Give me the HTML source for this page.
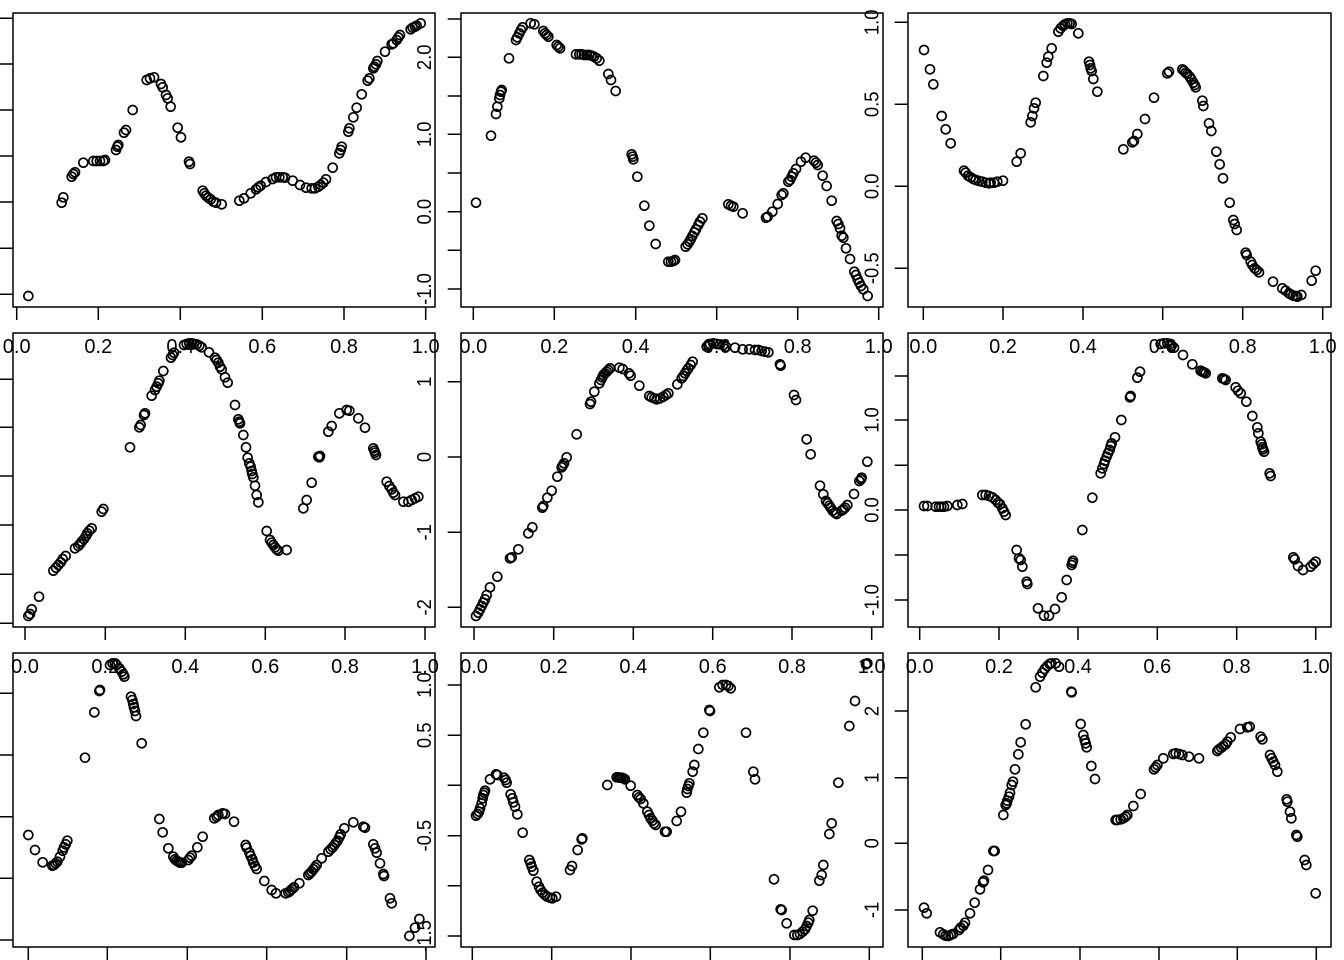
<!DOCTYPE html>
<html><head><meta charset="utf-8"><style>
html,body{margin:0;padding:0;background:#fff;}
body{width:1344px;height:960px;overflow:hidden;}
svg{display:block;}
circle{r:13.5px;}
text{font-family:"Liberation Sans",Arial,sans-serif;font-size:20px;fill:#000;}
</style></head><body>
<svg width="1344" height="960" viewBox="0 0 1344 960" xmlns="http://www.w3.org/2000/svg">
<rect width="1344" height="960" fill="#fff"/>
<g fill="none" stroke="#000" stroke-width="1.5">
<rect x="13" y="13" width="422" height="294"/>
<rect x="461" y="13" width="422" height="294"/>
<rect x="908" y="13" width="423" height="294"/>
<rect x="13" y="333" width="422" height="294"/>
<rect x="461" y="333" width="422" height="294"/>
<rect x="908" y="333" width="423" height="294"/>
<rect x="13" y="653" width="422" height="294"/>
<rect x="461" y="653" width="422" height="294"/>
<rect x="908" y="653" width="423" height="294"/>
<path d="M0 18.3H13M0 64H13M0 110H13M0 156H13M0 202H13M0 248.3H13M0 294.3H13
M16.7 307V320M98.3 307V320M180.3 307V320M262.3 307V320M344 307V320M425.7 307V320"/>
<path d="M447.7 19H461M447.7 57.3H461M447.7 96H461M447.7 134.3H461M447.7 173H461M447.7 211.7H461M447.7 250.3H461M447.7 289H461
M473.3 307V320M554.3 307V320M635.7 307V320M716.7 307V320M797.7 307V320M878.7 307V320"/>
<path d="M894.7 22.3H908M894.7 104.3H908M894.7 186.3H908M894.7 268.3H908
M923.3 307V320M1003 307V320M1083 307V320M1162.7 307V320M1242.7 307V320M1322.7 307V320"/>
<path d="M0 379.3H13M0 427.3H13M0 476H13M0 525H13M0 574.3H13M0 623.3H13
M25 627V640M105.3 627V640M185.3 627V640M265.3 627V640M345 627V640M425 627V640"/>
<path d="M447.7 381.7H461M447.7 457H461M447.7 532.3H461M447.7 607.3H461
M474 627V640M553.7 627V640M633.3 627V640M712.7 627V640M792 627V640M871.7 627V640"/>
<path d="M894.7 376H908M894.7 420H908M894.7 465.3H908M894.7 510H908M894.7 555H908M894.7 600H908
M919.7 627V640M999 627V640M1078 627V640M1157.3 627V640M1236.7 627V640M1315.7 627V640"/>
<path d="M0 693.3H13M0 755H13M0 816.7H13M0 878.3H13M0 940H13
M28.3 947V960M107.3 947V960M187.3 947V960M266.7 947V960M346.7 947V960M426 947V960"/>
<path d="M447.7 685H461M447.7 735.3H461M447.7 785.3H461M447.7 835.7H461M447.7 885.7H461M447.7 936H461
M472.3 947V960M551.7 947V960M631 947V960M710.3 947V960M790 947V960M869.3 947V960"/>
<path d="M894.7 711H908M894.7 777.7H908M894.7 843.3H908M894.7 910H908
M922.3 947V960M1000.7 947V960M1080 947V960M1159 947V960M1237.3 947V960M1316.3 947V960"/>
</g>

<!-- Panel 1 -->
<g transform="translate(0,0) scale(0.333333)" fill="none" stroke="#000" stroke-width="5">
<circle cx="85" cy="888" r="13"/><circle cx="185" cy="608" r="13"/><circle cx="190" cy="592" r="13"/><circle cx="215" cy="530" r="13"/><circle cx="220" cy="522" r="13"/><circle cx="225" cy="517" r="13"/><circle cx="250" cy="488" r="13"/><circle cx="280" cy="483" r="13"/><circle cx="290" cy="483" r="13"/><circle cx="300" cy="483" r="13"/><circle cx="310" cy="483" r="13"/><circle cx="315" cy="480" r="13"/><circle cx="348" cy="450" r="13"/><circle cx="352" cy="440" r="13"/><circle cx="355" cy="435" r="13"/><circle cx="372" cy="398" r="13"/><circle cx="378" cy="390" r="13"/><circle cx="398" cy="330" r="13"/><circle cx="440" cy="240" r="13"/><circle cx="450" cy="235" r="13"/><circle cx="462" cy="232" r="13"/><circle cx="483" cy="252" r="13"/><circle cx="488" cy="262" r="13"/><circle cx="498" cy="285" r="13"/><circle cx="503" cy="295" r="13"/><circle cx="512" cy="320" r="13"/><circle cx="533" cy="383" r="13"/><circle cx="543" cy="412" r="13"/><circle cx="567" cy="485" r="13"/><circle cx="570" cy="492" r="13"/><circle cx="608" cy="572" r="13"/><circle cx="613" cy="580" r="13"/><circle cx="618" cy="587" r="13"/><circle cx="625" cy="593" r="13"/><circle cx="632" cy="598" r="13"/><circle cx="640" cy="605" r="13"/><circle cx="648" cy="608" r="13"/><circle cx="665" cy="613" r="13"/><circle cx="718" cy="602" r="13"/><circle cx="732" cy="595" r="13"/><circle cx="752" cy="580" r="13"/><circle cx="768" cy="568" r="13"/><circle cx="775" cy="562" r="13"/><circle cx="782" cy="557" r="13"/><circle cx="798" cy="546" r="13"/><circle cx="818" cy="537" r="13"/><circle cx="828" cy="532" r="13"/><circle cx="838" cy="532" r="13"/><circle cx="848" cy="532" r="13"/><circle cx="855" cy="533" r="13"/><circle cx="878" cy="542" r="13"/><circle cx="900" cy="555" r="13"/><circle cx="918" cy="563" r="13"/><circle cx="935" cy="565" r="13"/><circle cx="945" cy="565" r="13"/><circle cx="955" cy="560" r="13"/><circle cx="962" cy="555" r="13"/><circle cx="970" cy="548" r="13"/><circle cx="978" cy="538" r="13"/><circle cx="998" cy="503" r="13"/><circle cx="1018" cy="460" r="13"/><circle cx="1022" cy="450" r="13"/><circle cx="1025" cy="440" r="13"/><circle cx="1045" cy="395" r="13"/><circle cx="1048" cy="385" r="13"/><circle cx="1060" cy="352" r="13"/><circle cx="1070" cy="323" r="13"/><circle cx="1085" cy="283" r="13"/><circle cx="1103" cy="242" r="13"/><circle cx="1108" cy="235" r="13"/><circle cx="1120" cy="205" r="13"/><circle cx="1123" cy="200" r="13"/><circle cx="1128" cy="193" r="13"/><circle cx="1132" cy="183" r="13"/><circle cx="1155" cy="155" r="13"/><circle cx="1175" cy="133" r="13"/><circle cx="1180" cy="130" r="13"/><circle cx="1190" cy="120" r="13"/><circle cx="1195" cy="112" r="13"/><circle cx="1200" cy="105" r="13"/><circle cx="1232" cy="88" r="13"/><circle cx="1238" cy="83" r="13"/><circle cx="1245" cy="80" r="13"/><circle cx="1250" cy="77" r="13"/><circle cx="1262" cy="70" r="13"/>
</g>

<!-- Panel 2 -->
<g transform="translate(440,0) scale(0.333333)" fill="none" stroke="#000" stroke-width="5">
<circle cx="108" cy="608" r="13"/><circle cx="153" cy="407" r="13"/><circle cx="168" cy="342" r="13"/><circle cx="172" cy="320" r="13"/><circle cx="178" cy="295" r="13"/><circle cx="180" cy="285" r="13"/><circle cx="183" cy="275" r="13"/><circle cx="185" cy="270" r="13"/><circle cx="207" cy="175" r="13"/><circle cx="228" cy="120" r="13"/><circle cx="232" cy="112" r="13"/><circle cx="238" cy="100" r="13"/><circle cx="243" cy="90" r="13"/><circle cx="248" cy="82" r="13"/><circle cx="272" cy="70" r="13"/><circle cx="283" cy="73" r="13"/><circle cx="310" cy="93" r="13"/><circle cx="315" cy="100" r="13"/><circle cx="320" cy="105" r="13"/><circle cx="325" cy="110" r="13"/><circle cx="350" cy="135" r="13"/><circle cx="355" cy="140" r="13"/><circle cx="360" cy="145" r="13"/><circle cx="408" cy="163" r="13"/><circle cx="418" cy="163" r="13"/><circle cx="425" cy="163" r="13"/><circle cx="432" cy="165" r="13"/><circle cx="440" cy="165" r="13"/><circle cx="448" cy="165" r="13"/><circle cx="455" cy="167" r="13"/><circle cx="462" cy="170" r="13"/><circle cx="470" cy="175" r="13"/><circle cx="478" cy="182" r="13"/><circle cx="505" cy="222" r="13"/><circle cx="513" cy="240" r="13"/><circle cx="527" cy="273" r="13"/><circle cx="575" cy="463" r="13"/><circle cx="578" cy="470" r="13"/><circle cx="580" cy="478" r="13"/><circle cx="592" cy="530" r="13"/><circle cx="613" cy="617" r="13"/><circle cx="628" cy="677" r="13"/><circle cx="647" cy="732" r="13"/><circle cx="685" cy="785" r="13"/><circle cx="693" cy="785" r="13"/><circle cx="700" cy="783" r="13"/><circle cx="705" cy="780" r="13"/><circle cx="737" cy="740" r="13"/><circle cx="743" cy="733" r="13"/><circle cx="748" cy="725" r="13"/><circle cx="752" cy="718" r="13"/><circle cx="757" cy="708" r="13"/><circle cx="763" cy="697" r="13"/><circle cx="768" cy="688" r="13"/><circle cx="775" cy="675" r="13"/><circle cx="780" cy="665" r="13"/><circle cx="787" cy="655" r="13"/><circle cx="865" cy="613" r="13"/><circle cx="873" cy="617" r="13"/><circle cx="880" cy="620" r="13"/><circle cx="908" cy="640" r="13"/><circle cx="978" cy="653" r="13"/><circle cx="983" cy="650" r="13"/><circle cx="997" cy="635" r="13"/><circle cx="1013" cy="612" r="13"/><circle cx="1025" cy="585" r="13"/><circle cx="1030" cy="580" r="13"/><circle cx="1045" cy="545" r="13"/><circle cx="1050" cy="540" r="13"/><circle cx="1055" cy="530" r="13"/><circle cx="1060" cy="520" r="13"/><circle cx="1068" cy="507" r="13"/><circle cx="1083" cy="485" r="13"/><circle cx="1097" cy="473" r="13"/><circle cx="1122" cy="482" r="13"/><circle cx="1128" cy="488" r="13"/><circle cx="1133" cy="495" r="13"/><circle cx="1148" cy="527" r="13"/><circle cx="1160" cy="558" r="13"/><circle cx="1175" cy="602" r="13"/><circle cx="1190" cy="663" r="13"/><circle cx="1195" cy="672" r="13"/><circle cx="1200" cy="685" r="13"/><circle cx="1205" cy="707" r="13"/><circle cx="1210" cy="713" r="13"/><circle cx="1218" cy="745" r="13"/><circle cx="1230" cy="777" r="13"/><circle cx="1243" cy="815" r="13"/><circle cx="1248" cy="825" r="13"/><circle cx="1253" cy="838" r="13"/><circle cx="1258" cy="848" r="13"/><circle cx="1263" cy="858" r="13"/><circle cx="1270" cy="868" r="13"/><circle cx="1283" cy="888" r="13"/>
</g>

<!-- Panel 3 -->
<g transform="translate(884,0) scale(0.333333)" fill="none" stroke="#000" stroke-width="5">
<circle cx="120" cy="150" r="13"/><circle cx="138" cy="208" r="13"/><circle cx="148" cy="253" r="13"/><circle cx="173" cy="348" r="13"/><circle cx="185" cy="388" r="13"/><circle cx="200" cy="430" r="13"/><circle cx="240" cy="512" r="13"/><circle cx="245" cy="518" r="13"/><circle cx="252" cy="527" r="13"/><circle cx="260" cy="532" r="13"/><circle cx="268" cy="537" r="13"/><circle cx="275" cy="540" r="13"/><circle cx="285" cy="543" r="13"/><circle cx="295" cy="545" r="13"/><circle cx="305" cy="548" r="13"/><circle cx="315" cy="550" r="13"/><circle cx="320" cy="548" r="13"/><circle cx="330" cy="548" r="13"/><circle cx="340" cy="545" r="13"/><circle cx="357" cy="542" r="13"/><circle cx="398" cy="485" r="13"/><circle cx="410" cy="460" r="13"/><circle cx="440" cy="367" r="13"/><circle cx="445" cy="348" r="13"/><circle cx="450" cy="325" r="13"/><circle cx="455" cy="308" r="13"/><circle cx="478" cy="228" r="13"/><circle cx="488" cy="188" r="13"/><circle cx="493" cy="170" r="13"/><circle cx="503" cy="145" r="13"/><circle cx="523" cy="95" r="13"/><circle cx="530" cy="85" r="13"/><circle cx="537" cy="78" r="13"/><circle cx="543" cy="73" r="13"/><circle cx="550" cy="70" r="13"/><circle cx="557" cy="70" r="13"/><circle cx="563" cy="72" r="13"/><circle cx="583" cy="100" r="13"/><circle cx="615" cy="185" r="13"/><circle cx="618" cy="195" r="13"/><circle cx="620" cy="205" r="13"/><circle cx="623" cy="213" r="13"/><circle cx="628" cy="237" r="13"/><circle cx="640" cy="275" r="13"/><circle cx="718" cy="448" r="13"/><circle cx="745" cy="427" r="13"/><circle cx="750" cy="423" r="13"/><circle cx="760" cy="402" r="13"/><circle cx="783" cy="357" r="13"/><circle cx="810" cy="293" r="13"/><circle cx="850" cy="220" r="13"/><circle cx="855" cy="215" r="13"/><circle cx="895" cy="208" r="13"/><circle cx="900" cy="212" r="13"/><circle cx="905" cy="218" r="13"/><circle cx="910" cy="222" r="13"/><circle cx="917" cy="230" r="13"/><circle cx="922" cy="238" r="13"/><circle cx="928" cy="248" r="13"/><circle cx="932" cy="255" r="13"/><circle cx="935" cy="262" r="13"/><circle cx="955" cy="302" r="13"/><circle cx="958" cy="318" r="13"/><circle cx="975" cy="370" r="13"/><circle cx="982" cy="393" r="13"/><circle cx="997" cy="455" r="13"/><circle cx="1007" cy="493" r="13"/><circle cx="1017" cy="535" r="13"/><circle cx="1037" cy="608" r="13"/><circle cx="1048" cy="660" r="13"/><circle cx="1052" cy="672" r="13"/><circle cx="1058" cy="690" r="13"/><circle cx="1085" cy="758" r="13"/><circle cx="1088" cy="765" r="13"/><circle cx="1100" cy="785" r="13"/><circle cx="1105" cy="795" r="13"/><circle cx="1112" cy="805" r="13"/><circle cx="1118" cy="810" r="13"/><circle cx="1125" cy="817" r="13"/><circle cx="1167" cy="845" r="13"/><circle cx="1195" cy="865" r="13"/><circle cx="1205" cy="872" r="13"/><circle cx="1215" cy="880" r="13"/><circle cx="1220" cy="883" r="13"/><circle cx="1228" cy="887" r="13"/><circle cx="1235" cy="888" r="13"/><circle cx="1240" cy="890" r="13"/><circle cx="1252" cy="885" r="13"/><circle cx="1283" cy="842" r="13"/><circle cx="1295" cy="812" r="13"/>
</g>

<!-- Panel 4 -->
<g transform="translate(0,320) scale(0.333333)" fill="none" stroke="#000" stroke-width="5">
<circle cx="85" cy="888" r="13"/><circle cx="90" cy="882" r="13"/><circle cx="95" cy="868" r="13"/><circle cx="117" cy="830" r="13"/><circle cx="160" cy="752" r="13"/><circle cx="168" cy="743" r="13"/><circle cx="175" cy="735" r="13"/><circle cx="182" cy="727" r="13"/><circle cx="188" cy="717" r="13"/><circle cx="197" cy="708" r="13"/><circle cx="225" cy="685" r="13"/><circle cx="235" cy="678" r="13"/><circle cx="240" cy="672" r="13"/><circle cx="245" cy="665" r="13"/><circle cx="252" cy="657" r="13"/><circle cx="258" cy="648" r="13"/><circle cx="262" cy="640" r="13"/><circle cx="268" cy="632" r="13"/><circle cx="275" cy="625" r="13"/><circle cx="305" cy="575" r="13"/><circle cx="310" cy="567" r="13"/><circle cx="390" cy="382" r="13"/><circle cx="418" cy="322" r="13"/><circle cx="422" cy="315" r="13"/><circle cx="432" cy="285" r="13"/><circle cx="435" cy="280" r="13"/><circle cx="455" cy="227" r="13"/><circle cx="465" cy="210" r="13"/><circle cx="470" cy="200" r="13"/><circle cx="475" cy="190" r="13"/><circle cx="478" cy="182" r="13"/><circle cx="490" cy="153" r="13"/><circle cx="513" cy="113" r="13"/><circle cx="518" cy="105" r="13"/><circle cx="522" cy="98" r="13"/><circle cx="552" cy="75" r="13"/><circle cx="560" cy="72" r="13"/><circle cx="568" cy="70" r="13"/><circle cx="575" cy="70" r="13"/><circle cx="582" cy="72" r="13"/><circle cx="590" cy="73" r="13"/><circle cx="598" cy="77" r="13"/><circle cx="605" cy="82" r="13"/><circle cx="627" cy="97" r="13"/><circle cx="645" cy="113" r="13"/><circle cx="650" cy="120" r="13"/><circle cx="655" cy="128" r="13"/><circle cx="660" cy="140" r="13"/><circle cx="665" cy="148" r="13"/><circle cx="675" cy="172" r="13"/><circle cx="683" cy="188" r="13"/><circle cx="705" cy="255" r="13"/><circle cx="715" cy="298" r="13"/><circle cx="718" cy="305" r="13"/><circle cx="720" cy="310" r="13"/><circle cx="730" cy="345" r="13"/><circle cx="738" cy="382" r="13"/><circle cx="743" cy="413" r="13"/><circle cx="748" cy="430" r="13"/><circle cx="752" cy="440" r="13"/><circle cx="755" cy="453" r="13"/><circle cx="757" cy="462" r="13"/><circle cx="760" cy="472" r="13"/><circle cx="765" cy="497" r="13"/><circle cx="770" cy="525" r="13"/><circle cx="775" cy="547" r="13"/><circle cx="800" cy="633" r="13"/><circle cx="810" cy="660" r="13"/><circle cx="815" cy="668" r="13"/><circle cx="820" cy="675" r="13"/><circle cx="825" cy="682" r="13"/><circle cx="830" cy="688" r="13"/><circle cx="835" cy="692" r="13"/><circle cx="860" cy="690" r="13"/><circle cx="910" cy="565" r="13"/><circle cx="920" cy="540" r="13"/><circle cx="935" cy="488" r="13"/><circle cx="955" cy="410" r="13"/><circle cx="958" cy="412" r="13"/><circle cx="960" cy="408" r="13"/><circle cx="985" cy="335" r="13"/><circle cx="995" cy="318" r="13"/><circle cx="1018" cy="280" r="13"/><circle cx="1040" cy="270" r="13"/><circle cx="1048" cy="272" r="13"/><circle cx="1075" cy="295" r="13"/><circle cx="1095" cy="323" r="13"/><circle cx="1120" cy="385" r="13"/><circle cx="1123" cy="392" r="13"/><circle cx="1125" cy="398" r="13"/><circle cx="1128" cy="405" r="13"/><circle cx="1160" cy="485" r="13"/><circle cx="1168" cy="498" r="13"/><circle cx="1175" cy="508" r="13"/><circle cx="1180" cy="518" r="13"/><circle cx="1185" cy="525" r="13"/><circle cx="1210" cy="545" r="13"/><circle cx="1225" cy="545" r="13"/><circle cx="1235" cy="540" r="13"/><circle cx="1245" cy="535" r="13"/><circle cx="1255" cy="530" r="13"/>
</g>

<!-- Panel 5 -->
<g transform="translate(440,320) scale(0.333333)" fill="none" stroke="#000" stroke-width="5">
<circle cx="108" cy="888" r="13"/><circle cx="115" cy="878" r="13"/><circle cx="120" cy="868" r="13"/><circle cx="125" cy="858" r="13"/><circle cx="130" cy="848" r="13"/><circle cx="135" cy="838" r="13"/><circle cx="140" cy="825" r="13"/><circle cx="150" cy="802" r="13"/><circle cx="172" cy="770" r="13"/><circle cx="210" cy="715" r="13"/><circle cx="215" cy="712" r="13"/><circle cx="235" cy="688" r="13"/><circle cx="265" cy="640" r="13"/><circle cx="277" cy="622" r="13"/><circle cx="307" cy="563" r="13"/><circle cx="310" cy="558" r="13"/><circle cx="322" cy="533" r="13"/><circle cx="335" cy="512" r="13"/><circle cx="352" cy="470" r="13"/><circle cx="365" cy="442" r="13"/><circle cx="368" cy="437" r="13"/><circle cx="372" cy="430" r="13"/><circle cx="380" cy="412" r="13"/><circle cx="410" cy="343" r="13"/><circle cx="450" cy="252" r="13"/><circle cx="453" cy="245" r="13"/><circle cx="463" cy="215" r="13"/><circle cx="478" cy="190" r="13"/><circle cx="483" cy="180" r="13"/><circle cx="487" cy="172" r="13"/><circle cx="490" cy="165" r="13"/><circle cx="495" cy="160" r="13"/><circle cx="500" cy="155" r="13"/><circle cx="505" cy="150" r="13"/><circle cx="510" cy="145" r="13"/><circle cx="538" cy="143" r="13"/><circle cx="548" cy="147" r="13"/><circle cx="567" cy="160" r="13"/><circle cx="572" cy="167" r="13"/><circle cx="598" cy="197" r="13"/><circle cx="628" cy="228" r="13"/><circle cx="635" cy="232" r="13"/><circle cx="643" cy="235" r="13"/><circle cx="650" cy="238" r="13"/><circle cx="660" cy="235" r="13"/><circle cx="670" cy="230" r="13"/><circle cx="678" cy="225" r="13"/><circle cx="685" cy="220" r="13"/><circle cx="712" cy="193" r="13"/><circle cx="725" cy="175" r="13"/><circle cx="730" cy="168" r="13"/><circle cx="735" cy="160" r="13"/><circle cx="740" cy="152" r="13"/><circle cx="745" cy="145" r="13"/><circle cx="752" cy="135" r="13"/><circle cx="758" cy="125" r="13"/><circle cx="800" cy="80" r="13"/><circle cx="805" cy="75" r="13"/><circle cx="810" cy="72" r="13"/><circle cx="820" cy="70" r="13"/><circle cx="830" cy="72" r="13"/><circle cx="840" cy="73" r="13"/><circle cx="850" cy="75" r="13"/><circle cx="858" cy="80" r="13"/><circle cx="885" cy="83" r="13"/><circle cx="908" cy="88" r="13"/><circle cx="928" cy="88" r="13"/><circle cx="945" cy="90" r="13"/><circle cx="955" cy="90" r="13"/><circle cx="965" cy="93" r="13"/><circle cx="975" cy="95" r="13"/><circle cx="985" cy="97" r="13"/><circle cx="1020" cy="133" r="13"/><circle cx="1022" cy="137" r="13"/><circle cx="1062" cy="225" r="13"/><circle cx="1068" cy="240" r="13"/><circle cx="1100" cy="358" r="13"/><circle cx="1112" cy="403" r="13"/><circle cx="1140" cy="497" r="13"/><circle cx="1150" cy="523" r="13"/><circle cx="1158" cy="543" r="13"/><circle cx="1163" cy="550" r="13"/><circle cx="1168" cy="557" r="13"/><circle cx="1172" cy="563" r="13"/><circle cx="1178" cy="572" r="13"/><circle cx="1185" cy="578" r="13"/><circle cx="1190" cy="582" r="13"/><circle cx="1205" cy="572" r="13"/><circle cx="1210" cy="568" r="13"/><circle cx="1215" cy="563" r="13"/><circle cx="1222" cy="555" r="13"/><circle cx="1242" cy="522" r="13"/><circle cx="1258" cy="483" r="13"/><circle cx="1263" cy="478" r="13"/><circle cx="1265" cy="473" r="13"/><circle cx="1282" cy="425" r="13"/>
</g>

<!-- Panel 6 -->
<g transform="translate(884,320) scale(0.333333)" fill="none" stroke="#000" stroke-width="5">
<circle cx="120" cy="558" r="13"/><circle cx="130" cy="558" r="13"/><circle cx="155" cy="560" r="13"/><circle cx="165" cy="560" r="13"/><circle cx="172" cy="560" r="13"/><circle cx="180" cy="560" r="13"/><circle cx="190" cy="558" r="13"/><circle cx="220" cy="555" r="13"/><circle cx="235" cy="552" r="13"/><circle cx="295" cy="525" r="13"/><circle cx="305" cy="525" r="13"/><circle cx="315" cy="528" r="13"/><circle cx="325" cy="532" r="13"/><circle cx="335" cy="540" r="13"/><circle cx="342" cy="548" r="13"/><circle cx="348" cy="553" r="13"/><circle cx="355" cy="565" r="13"/><circle cx="360" cy="575" r="13"/><circle cx="365" cy="585" r="13"/><circle cx="398" cy="690" r="13"/><circle cx="405" cy="715" r="13"/><circle cx="410" cy="720" r="13"/><circle cx="415" cy="740" r="13"/><circle cx="428" cy="785" r="13"/><circle cx="430" cy="792" r="13"/><circle cx="462" cy="865" r="13"/><circle cx="480" cy="887" r="13"/><circle cx="495" cy="887" r="13"/><circle cx="513" cy="867" r="13"/><circle cx="533" cy="832" r="13"/><circle cx="548" cy="780" r="13"/><circle cx="563" cy="735" r="13"/><circle cx="565" cy="728" r="13"/><circle cx="567" cy="722" r="13"/><circle cx="595" cy="630" r="13"/><circle cx="625" cy="533" r="13"/><circle cx="650" cy="460" r="13"/><circle cx="655" cy="445" r="13"/><circle cx="660" cy="432" r="13"/><circle cx="663" cy="422" r="13"/><circle cx="668" cy="410" r="13"/><circle cx="672" cy="400" r="13"/><circle cx="677" cy="390" r="13"/><circle cx="680" cy="378" r="13"/><circle cx="683" cy="370" r="13"/><circle cx="693" cy="352" r="13"/><circle cx="712" cy="300" r="13"/><circle cx="738" cy="232" r="13"/><circle cx="740" cy="228" r="13"/><circle cx="760" cy="173" r="13"/><circle cx="768" cy="155" r="13"/><circle cx="830" cy="72" r="13"/><circle cx="840" cy="70" r="13"/><circle cx="850" cy="70" r="13"/><circle cx="858" cy="72" r="13"/><circle cx="863" cy="77" r="13"/><circle cx="870" cy="83" r="13"/><circle cx="897" cy="105" r="13"/><circle cx="925" cy="133" r="13"/><circle cx="950" cy="152" r="13"/><circle cx="955" cy="155" r="13"/><circle cx="960" cy="157" r="13"/><circle cx="965" cy="160" r="13"/><circle cx="1015" cy="175" r="13"/><circle cx="1020" cy="177" r="13"/><circle cx="1025" cy="180" r="13"/><circle cx="1055" cy="202" r="13"/><circle cx="1062" cy="212" r="13"/><circle cx="1070" cy="220" r="13"/><circle cx="1087" cy="245" r="13"/><circle cx="1105" cy="288" r="13"/><circle cx="1120" cy="322" r="13"/><circle cx="1123" cy="340" r="13"/><circle cx="1130" cy="365" r="13"/><circle cx="1133" cy="373" r="13"/><circle cx="1135" cy="382" r="13"/><circle cx="1137" cy="388" r="13"/><circle cx="1140" cy="395" r="13"/><circle cx="1157" cy="460" r="13"/><circle cx="1160" cy="468" r="13"/><circle cx="1228" cy="712" r="13"/><circle cx="1232" cy="718" r="13"/><circle cx="1242" cy="738" r="13"/><circle cx="1257" cy="750" r="13"/><circle cx="1280" cy="740" r="13"/><circle cx="1288" cy="732" r="13"/><circle cx="1295" cy="725" r="13"/>
</g>

<!-- Panel 7 -->
<g transform="translate(0,630) scale(0.333333)" fill="none" stroke="#000" stroke-width="5">
<circle cx="85" cy="615" r="13"/><circle cx="105" cy="660" r="13"/><circle cx="128" cy="697" r="13"/><circle cx="157" cy="707" r="13"/><circle cx="162" cy="705" r="13"/><circle cx="167" cy="700" r="13"/><circle cx="172" cy="695" r="13"/><circle cx="180" cy="680" r="13"/><circle cx="188" cy="662" r="13"/><circle cx="192" cy="652" r="13"/><circle cx="197" cy="643" r="13"/><circle cx="202" cy="632" r="13"/><circle cx="255" cy="383" r="13"/><circle cx="283" cy="247" r="13"/><circle cx="298" cy="183" r="13"/><circle cx="300" cy="180" r="13"/><circle cx="330" cy="105" r="13"/><circle cx="338" cy="100" r="13"/><circle cx="345" cy="100" r="13"/><circle cx="350" cy="105" r="13"/><circle cx="358" cy="115" r="13"/><circle cx="365" cy="125" r="13"/><circle cx="370" cy="133" r="13"/><circle cx="373" cy="140" r="13"/><circle cx="393" cy="200" r="13"/><circle cx="397" cy="210" r="13"/><circle cx="400" cy="222" r="13"/><circle cx="402" cy="232" r="13"/><circle cx="405" cy="243" r="13"/><circle cx="408" cy="258" r="13"/><circle cx="425" cy="340" r="13"/><circle cx="478" cy="567" r="13"/><circle cx="488" cy="607" r="13"/><circle cx="505" cy="655" r="13"/><circle cx="520" cy="680" r="13"/><circle cx="525" cy="688" r="13"/><circle cx="530" cy="692" r="13"/><circle cx="535" cy="695" r="13"/><circle cx="540" cy="698" r="13"/><circle cx="545" cy="698" r="13"/><circle cx="565" cy="690" r="13"/><circle cx="570" cy="683" r="13"/><circle cx="575" cy="677" r="13"/><circle cx="592" cy="652" r="13"/><circle cx="608" cy="620" r="13"/><circle cx="643" cy="565" r="13"/><circle cx="650" cy="560" r="13"/><circle cx="655" cy="555" r="13"/><circle cx="668" cy="550" r="13"/><circle cx="675" cy="552" r="13"/><circle cx="702" cy="575" r="13"/><circle cx="737" cy="645" r="13"/><circle cx="740" cy="653" r="13"/><circle cx="748" cy="668" r="13"/><circle cx="752" cy="678" r="13"/><circle cx="757" cy="688" r="13"/><circle cx="760" cy="698" r="13"/><circle cx="765" cy="708" r="13"/><circle cx="770" cy="717" r="13"/><circle cx="793" cy="753" r="13"/><circle cx="815" cy="780" r="13"/><circle cx="828" cy="790" r="13"/><circle cx="857" cy="790" r="13"/><circle cx="865" cy="787" r="13"/><circle cx="870" cy="783" r="13"/><circle cx="875" cy="778" r="13"/><circle cx="882" cy="772" r="13"/><circle cx="898" cy="760" r="13"/><circle cx="925" cy="735" r="13"/><circle cx="930" cy="730" r="13"/><circle cx="935" cy="725" r="13"/><circle cx="940" cy="718" r="13"/><circle cx="945" cy="712" r="13"/><circle cx="950" cy="705" r="13"/><circle cx="965" cy="685" r="13"/><circle cx="985" cy="665" r="13"/><circle cx="992" cy="658" r="13"/><circle cx="998" cy="652" r="13"/><circle cx="1003" cy="645" r="13"/><circle cx="1008" cy="638" r="13"/><circle cx="1013" cy="632" r="13"/><circle cx="1018" cy="622" r="13"/><circle cx="1022" cy="613" r="13"/><circle cx="1033" cy="595" r="13"/><circle cx="1060" cy="577" r="13"/><circle cx="1090" cy="590" r="13"/><circle cx="1095" cy="593" r="13"/><circle cx="1120" cy="643" r="13"/><circle cx="1125" cy="655" r="13"/><circle cx="1130" cy="668" r="13"/><circle cx="1140" cy="700" r="13"/><circle cx="1150" cy="732" r="13"/><circle cx="1152" cy="738" r="13"/><circle cx="1170" cy="805" r="13"/><circle cx="1175" cy="820" r="13"/><circle cx="1228" cy="918" r="13"/><circle cx="1245" cy="893" r="13"/><circle cx="1258" cy="867" r="13"/>
</g>

<!-- Panel 8 -->
<g transform="translate(440,630) scale(0.333333)" fill="none" stroke="#000" stroke-width="5">
<circle cx="108" cy="557" r="13"/><circle cx="113" cy="552" r="13"/><circle cx="117" cy="545" r="13"/><circle cx="120" cy="535" r="13"/><circle cx="125" cy="520" r="13"/><circle cx="128" cy="505" r="13"/><circle cx="130" cy="495" r="13"/><circle cx="133" cy="488" r="13"/><circle cx="135" cy="482" r="13"/><circle cx="150" cy="448" r="13"/><circle cx="168" cy="433" r="13"/><circle cx="172" cy="435" r="13"/><circle cx="192" cy="443" r="13"/><circle cx="197" cy="450" r="13"/><circle cx="200" cy="458" r="13"/><circle cx="212" cy="493" r="13"/><circle cx="217" cy="505" r="13"/><circle cx="220" cy="517" r="13"/><circle cx="225" cy="530" r="13"/><circle cx="232" cy="553" r="13"/><circle cx="248" cy="608" r="13"/><circle cx="268" cy="690" r="13"/><circle cx="272" cy="700" r="13"/><circle cx="275" cy="710" r="13"/><circle cx="280" cy="722" r="13"/><circle cx="290" cy="755" r="13"/><circle cx="297" cy="770" r="13"/><circle cx="302" cy="780" r="13"/><circle cx="308" cy="788" r="13"/><circle cx="315" cy="795" r="13"/><circle cx="322" cy="800" r="13"/><circle cx="330" cy="803" r="13"/><circle cx="337" cy="805" r="13"/><circle cx="348" cy="800" r="13"/><circle cx="390" cy="720" r="13"/><circle cx="396" cy="708" r="13"/><circle cx="413" cy="660" r="13"/><circle cx="425" cy="628" r="13"/><circle cx="427" cy="625" r="13"/><circle cx="502" cy="465" r="13"/><circle cx="530" cy="442" r="13"/><circle cx="535" cy="442" r="13"/><circle cx="540" cy="443" r="13"/><circle cx="545" cy="443" r="13"/><circle cx="550" cy="445" r="13"/><circle cx="555" cy="448" r="13"/><circle cx="572" cy="467" r="13"/><circle cx="592" cy="495" r="13"/><circle cx="597" cy="502" r="13"/><circle cx="602" cy="507" r="13"/><circle cx="610" cy="520" r="13"/><circle cx="622" cy="545" r="13"/><circle cx="627" cy="555" r="13"/><circle cx="632" cy="565" r="13"/><circle cx="637" cy="572" r="13"/><circle cx="642" cy="580" r="13"/><circle cx="647" cy="585" r="13"/><circle cx="675" cy="605" r="13"/><circle cx="680" cy="605" r="13"/><circle cx="710" cy="573" r="13"/><circle cx="723" cy="545" r="13"/><circle cx="740" cy="488" r="13"/><circle cx="742" cy="477" r="13"/><circle cx="745" cy="468" r="13"/><circle cx="748" cy="460" r="13"/><circle cx="758" cy="425" r="13"/><circle cx="763" cy="405" r="13"/><circle cx="775" cy="357" r="13"/><circle cx="790" cy="308" r="13"/><circle cx="808" cy="240" r="13"/><circle cx="810" cy="243" r="13"/><circle cx="838" cy="172" r="13"/><circle cx="848" cy="165" r="13"/><circle cx="858" cy="165" r="13"/><circle cx="865" cy="168" r="13"/><circle cx="872" cy="175" r="13"/><circle cx="918" cy="308" r="13"/><circle cx="940" cy="425" r="13"/><circle cx="945" cy="448" r="13"/><circle cx="1002" cy="748" r="13"/><circle cx="1022" cy="838" r="13"/><circle cx="1025" cy="840" r="13"/><circle cx="1040" cy="880" r="13"/><circle cx="1063" cy="915" r="13"/><circle cx="1072" cy="915" r="13"/><circle cx="1080" cy="912" r="13"/><circle cx="1088" cy="905" r="13"/><circle cx="1095" cy="898" r="13"/><circle cx="1100" cy="888" r="13"/><circle cx="1105" cy="878" r="13"/><circle cx="1108" cy="870" r="13"/><circle cx="1118" cy="842" r="13"/><circle cx="1138" cy="752" r="13"/><circle cx="1145" cy="735" r="13"/><circle cx="1150" cy="705" r="13"/><circle cx="1168" cy="612" r="13"/><circle cx="1175" cy="580" r="13"/><circle cx="1195" cy="458" r="13"/><circle cx="1228" cy="288" r="13"/><circle cx="1245" cy="213" r="13"/><circle cx="1278" cy="103" r="13"/><circle cx="1282" cy="100" r="13"/>
</g>

<!-- Panel 9 -->
<g transform="translate(884,630) scale(0.333333)" fill="none" stroke="#000" stroke-width="5">
<circle cx="120" cy="833" r="13"/><circle cx="128" cy="850" r="13"/><circle cx="168" cy="907" r="13"/><circle cx="178" cy="913" r="13"/><circle cx="185" cy="917" r="13"/><circle cx="193" cy="918" r="13"/><circle cx="200" cy="915" r="13"/><circle cx="207" cy="912" r="13"/><circle cx="225" cy="900" r="13"/><circle cx="230" cy="893" r="13"/><circle cx="238" cy="887" r="13"/><circle cx="243" cy="878" r="13"/><circle cx="258" cy="850" r="13"/><circle cx="272" cy="818" r="13"/><circle cx="288" cy="778" r="13"/><circle cx="297" cy="757" r="13"/><circle cx="300" cy="752" r="13"/><circle cx="312" cy="720" r="13"/><circle cx="328" cy="663" r="13"/><circle cx="332" cy="663" r="13"/><circle cx="358" cy="555" r="13"/><circle cx="365" cy="525" r="13"/><circle cx="368" cy="520" r="13"/><circle cx="370" cy="512" r="13"/><circle cx="375" cy="500" r="13"/><circle cx="378" cy="488" r="13"/><circle cx="383" cy="465" r="13"/><circle cx="387" cy="455" r="13"/><circle cx="393" cy="418" r="13"/><circle cx="403" cy="373" r="13"/><circle cx="410" cy="337" r="13"/><circle cx="425" cy="283" r="13"/><circle cx="455" cy="172" r="13"/><circle cx="468" cy="140" r="13"/><circle cx="475" cy="128" r="13"/><circle cx="482" cy="117" r="13"/><circle cx="490" cy="108" r="13"/><circle cx="497" cy="102" r="13"/><circle cx="502" cy="100" r="13"/><circle cx="515" cy="100" r="13"/><circle cx="525" cy="110" r="13"/><circle cx="562" cy="185" r="13"/><circle cx="563" cy="187" r="13"/><circle cx="590" cy="282" r="13"/><circle cx="598" cy="315" r="13"/><circle cx="602" cy="330" r="13"/><circle cx="605" cy="340" r="13"/><circle cx="608" cy="352" r="13"/><circle cx="622" cy="408" r="13"/><circle cx="633" cy="447" r="13"/><circle cx="695" cy="570" r="13"/><circle cx="700" cy="570" r="13"/><circle cx="710" cy="568" r="13"/><circle cx="718" cy="565" r="13"/><circle cx="725" cy="560" r="13"/><circle cx="730" cy="555" r="13"/><circle cx="748" cy="528" r="13"/><circle cx="770" cy="492" r="13"/><circle cx="810" cy="418" r="13"/><circle cx="815" cy="412" r="13"/><circle cx="820" cy="405" r="13"/><circle cx="838" cy="385" r="13"/><circle cx="868" cy="372" r="13"/><circle cx="875" cy="370" r="13"/><circle cx="885" cy="372" r="13"/><circle cx="895" cy="375" r="13"/><circle cx="915" cy="380" r="13"/><circle cx="945" cy="385" r="13"/><circle cx="1000" cy="363" r="13"/><circle cx="1005" cy="358" r="13"/><circle cx="1012" cy="353" r="13"/><circle cx="1018" cy="348" r="13"/><circle cx="1025" cy="343" r="13"/><circle cx="1030" cy="335" r="13"/><circle cx="1040" cy="322" r="13"/><circle cx="1068" cy="297" r="13"/><circle cx="1090" cy="292" r="13"/><circle cx="1097" cy="290" r="13"/><circle cx="1130" cy="320" r="13"/><circle cx="1135" cy="328" r="13"/><circle cx="1158" cy="375" r="13"/><circle cx="1163" cy="385" r="13"/><circle cx="1168" cy="395" r="13"/><circle cx="1173" cy="405" r="13"/><circle cx="1180" cy="425" r="13"/><circle cx="1208" cy="508" r="13"/><circle cx="1210" cy="515" r="13"/><circle cx="1218" cy="545" r="13"/><circle cx="1222" cy="565" r="13"/><circle cx="1237" cy="615" r="13"/><circle cx="1240" cy="620" r="13"/><circle cx="1262" cy="690" r="13"/><circle cx="1267" cy="705" r="13"/><circle cx="1295" cy="790" r="13"/>
</g>

<g text-anchor="middle">
<text x="16.7" y="353">0.0</text><text x="98.3" y="353">0.2</text><text x="180.3" y="353">0.4</text><text x="262.3" y="353">0.6</text><text x="344" y="353">0.8</text><text x="425.7" y="353">1.0</text>
<text x="473.3" y="353">0.0</text><text x="554.3" y="353">0.2</text><text x="635.7" y="353">0.4</text><text x="716.7" y="353">0.6</text><text x="797.7" y="353">0.8</text><text x="878.7" y="353">1.0</text>
<text x="923.3" y="353">0.0</text><text x="1003" y="353">0.2</text><text x="1083" y="353">0.4</text><text x="1162.7" y="353">0.6</text><text x="1242.7" y="353">0.8</text><text x="1322.7" y="353">1.0</text>
<text x="25" y="673">0.0</text><text x="105.3" y="673">0.2</text><text x="185.3" y="673">0.4</text><text x="265.3" y="673">0.6</text><text x="345" y="673">0.8</text><text x="425" y="673">1.0</text>
<text x="474" y="673">0.0</text><text x="553.7" y="673">0.2</text><text x="633.3" y="673">0.4</text><text x="712.7" y="673">0.6</text><text x="792" y="673">0.8</text><text x="871.7" y="673">1.0</text>
<text x="919.7" y="673">0.0</text><text x="999" y="673">0.2</text><text x="1078" y="673">0.4</text><text x="1157.3" y="673">0.6</text><text x="1236.7" y="673">0.8</text><text x="1315.7" y="673">1.0</text>

<text transform="translate(431,57.3) rotate(-90) scale(0.92,1)">2.0</text>
<text transform="translate(431,134.3) rotate(-90) scale(0.92,1)">1.0</text>
<text transform="translate(431,211.7) rotate(-90) scale(0.92,1)">0.0</text>
<text transform="translate(431,289) rotate(-90) scale(0.92,1)">-1.0</text>

<text transform="translate(878.5,22.3) rotate(-90) scale(0.92,1)">1.0</text>
<text transform="translate(878.5,104.3) rotate(-90) scale(0.92,1)">0.5</text>
<text transform="translate(878.5,186.3) rotate(-90) scale(0.92,1)">0.0</text>
<text transform="translate(878.5,268.3) rotate(-90) scale(0.92,1)">-0.5</text>

<text transform="translate(431,381.7) rotate(-90) scale(0.92,1)">1</text>
<text transform="translate(431,457) rotate(-90) scale(0.92,1)">0</text>
<text transform="translate(431,532.3) rotate(-90) scale(0.92,1)">-1</text>
<text transform="translate(431,607.3) rotate(-90) scale(0.92,1)">-2</text>

<text transform="translate(878.5,420) rotate(-90) scale(0.92,1)">1.0</text>
<text transform="translate(878.5,510) rotate(-90) scale(0.92,1)">0.0</text>
<text transform="translate(878.5,600) rotate(-90) scale(0.92,1)">-1.0</text>

<text transform="translate(431,685) rotate(-90) scale(0.92,1)">1.0</text>
<text transform="translate(431,735.3) rotate(-90) scale(0.92,1)">0.5</text>
<text transform="translate(431,835.7) rotate(-90) scale(0.92,1)">-0.5</text>
<text transform="translate(431,936) rotate(-90) scale(0.92,1)">-1.5</text>

<text transform="translate(878.5,711) rotate(-90) scale(0.92,1)">2</text>
<text transform="translate(878.5,777.7) rotate(-90) scale(0.92,1)">1</text>
<text transform="translate(878.5,843.3) rotate(-90) scale(0.92,1)">0</text>
<text transform="translate(878.5,910) rotate(-90) scale(0.92,1)">-1</text>
</g>
</svg>
</body></html>
